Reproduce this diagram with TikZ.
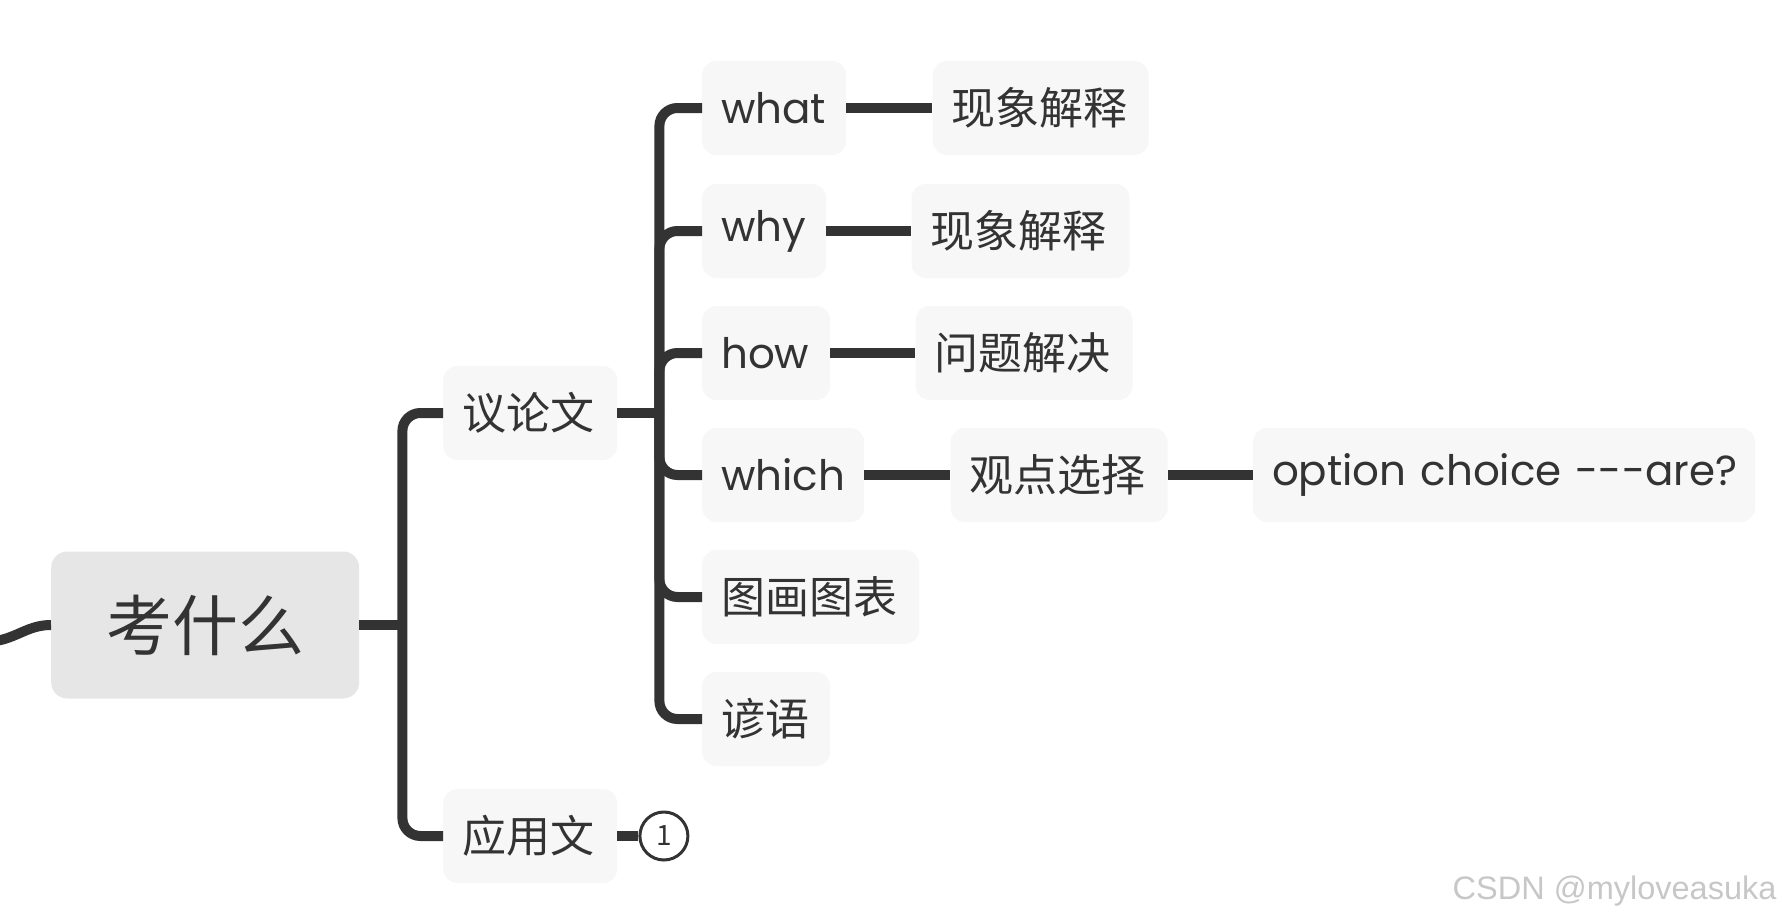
\documentclass[tikz,border=0pt]{standalone}
\usepackage{fontspec}
\setmainfont{Noto Sans CJK SC}
\newfontfamily\latinfont{Poppins}
\newfontfamily\wmfont{Liberation Sans}
\usetikzlibrary{positioning,calc}
\definecolor{ink}{RGB}{51,51,51}
\definecolor{rootfill}{RGB}{230,230,230}
\definecolor{subfill}{RGB}{247,247,247}
\tikzset{
  conn/.style={draw=ink,line width=10pt,rounded corners=18pt},
  roottopic/.style={fill=rootfill,rounded corners=16pt,minimum width=308pt,minimum height=147pt,
    text=ink,font=\fontsize{66}{66}\selectfont},
  subtopic/.style={fill=subfill,rounded corners=14pt,minimum height=94pt,inner xsep=19pt,
    text=ink,font=\fontsize{44}{44}\selectfont,text width=#1,align=left},
  latin/.style={font=\fontsize{42}{42}\latinfont}
}
\begin{document}
\begin{tikzpicture}[x=1pt,y=-1pt]
  \useasboundingbox (0,0) rectangle (1782,921);
  \node[roottopic,anchor=west] (root) at (51,625) {考什么};
  \node[subtopic=136pt,anchor=west] (yilun) at (443,413) {议论文};
  \node[subtopic=136pt,anchor=west] (yingyong) at (443,836) {应用文};
  \coordinate (lin) at (-4,641);
  \draw[conn] (root.west) to[out=180,in=10] (lin);
  \coordinate (j1) at ($(root.east)+(43,0)$);
  \draw[conn] (root.east) -- (j1);
  \draw[conn] (j1) |- (yilun.west);
  \draw[conn] (j1) |- (yingyong.west);
  \node[circle,draw=ink,line width=3pt,minimum size=48pt,inner sep=0pt,text=ink,
    font=\fontsize{28}{28}\selectfont,right=21pt of yingyong] (mark1) {1};
  \draw[conn] (yingyong.east) -- (mark1.west);
  \coordinate (j2) at ($(yilun.east)+(42,0)$);
  \draw[conn] (yilun.east) -- (j2);
  \foreach \n/\t/\w/\y/\f in {what/what/106/108/latin,why/why/86/231/latin,how/how/90/353/latin,
      which/which/124/475/latin,tuhua/图画图表/179/597/,yanyu/谚语/90/719/} {
    \node[subtopic=\w pt,\f,anchor=west] (\n) at (702,\y) {\mbox{\t}};
    \draw[conn] (j2) |- (\n.west);
  }
  \node[subtopic=178pt,right=86pt of what] (xx1) {现象解释};
  \node[subtopic=180pt,right=85pt of why] (xx2) {现象解释};
  \node[subtopic=179pt,right=85pt of how] (wtjj) {问题解决};
  \node[subtopic=179pt,right=86pt of which] (gdxz) {观点选择};
  \node[subtopic=464pt,latin,right=85pt of gdxz] (opt) {\mbox{option choice {-}{-}{-}are?}};
  \foreach \p/\q in {what/xx1,why/xx2,how/wtjj,which/gdxz,gdxz/opt} \draw[conn] (\p) -- (\q);
  \node[anchor=east,text=black!22,font=\fontsize{32.5}{32.5}\wmfont] (wm) at (1780,891) {CSDN @myloveasuka};
\end{tikzpicture}
\end{document}
